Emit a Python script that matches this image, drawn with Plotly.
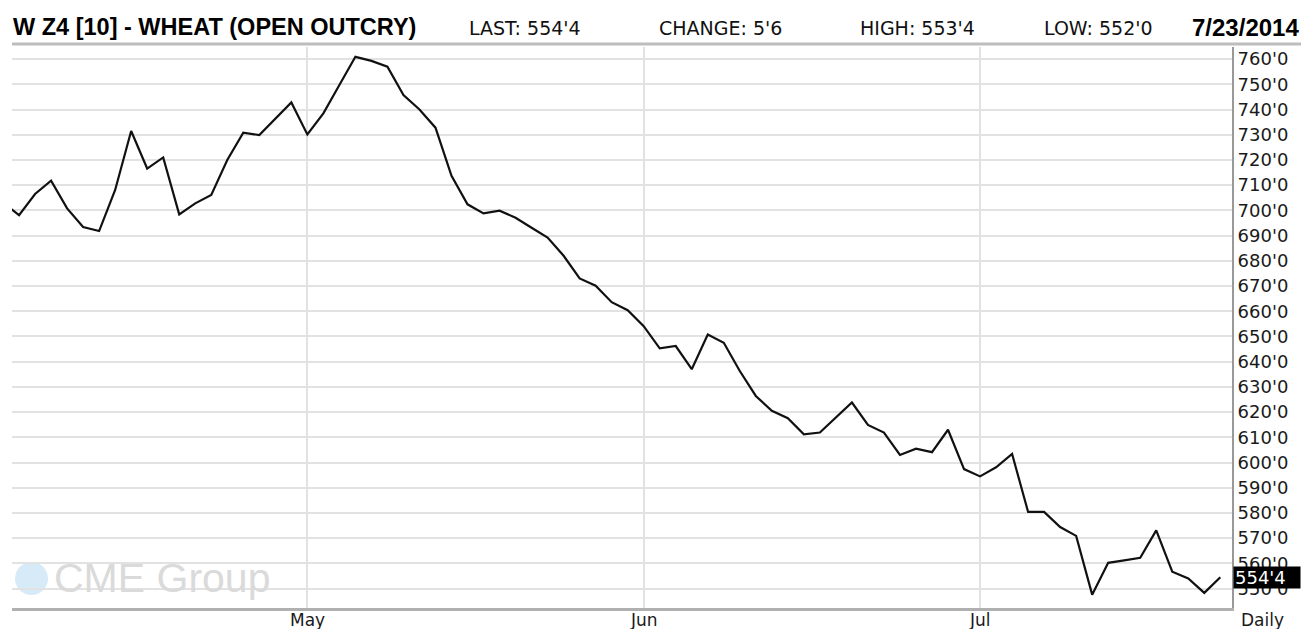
import pandas as pd
import plotly.graph_objects as go

# ---- data ----
holidays = ["2014-04-18", "2014-05-26", "2014-07-04"]
dates = [d.strftime("%Y-%m-%d") for d in pd.bdate_range("2014-04-03", "2014-07-23")
         if d.strftime("%Y-%m-%d") not in holidays]

close = [
    703.0, 698.1, 706.5, 711.8, 700.8, 693.4, 691.8, 708.1, 731.5, 716.6,
    721.0, 698.4, 702.8, 706.1, 720.0, 730.8, 729.9, 736.2, 742.8, 730.1,
    738.5, 749.7, 760.9, 759.3, 757.0, 745.7, 740.0, 732.8, 713.7, 702.4,
    698.8, 699.9, 697.1, 693.1, 689.2, 682.0, 673.0, 670.1, 663.6, 660.4,
    654.1, 645.3, 646.2, 637.0, 650.8, 647.5, 636.3, 626.4, 620.5, 617.6,
    611.2, 611.9, 617.8, 623.8, 614.9, 611.9, 603.0, 605.5, 604.1, 613.0,
    597.4, 594.5, 598.1, 603.4, 580.4, 580.4, 574.4, 570.9, 547.6, 560.2,
    561.2, 562.2, 573.1, 556.7, 554.0, 548.3, 554.5,
]

month_ticks = ["2014-05-01", "2014-06-02", "2014-07-01"]
month_labels = ["May", "Jun", "Jul"]

price_ticks = list(range(550, 761, 10))
price_labels = [f"{v}'0" for v in price_ticks]

title_text = "W Z4 [10] - WHEAT (OPEN OUTCRY)"
header_items = ["LAST: 554'4", "CHANGE: 5'6", "HIGH: 553'4", "LOW: 552'0"]
date_text = "7/23/2014"
last_label = "554'4"
last_value = 554.5

# ---- figure ----
# The page keeps its default 8px body margin, so the figure is 16px smaller
# than the window and everything is placed in window pixel coordinates.
OFF = 8
W, H = 1309 - 2 * OFF, 637 - 2 * OFF
PL, PR, PT, PB = 12, 1232, 47, 608          # plot area in window pixels
L, R, T, B = PL - OFF, W - (PR - OFF), PT - OFF, H - (PB - OFF)
plot_w = PR - PL
plot_h = PB - PT


def px_x(x):
    return (x - PL) / plot_w


def px_y(y):
    return (PB - y) / plot_h


fig = go.Figure()
fig.add_trace(go.Scatter(
    x=dates, y=close, mode="lines",
    line=dict(color="#111111", width=2.2),
    hoverinfo="x+y", showlegend=False,
))

tick_font = dict(family="DejaVu Sans", size=18, color="#1a1a1a")
xtick_font = dict(family="DejaVu Sans", size=17, color="#1a1a1a")

fig.update_layout(
    width=W, height=H,
    margin=dict(l=L, r=R, t=T, b=B, autoexpand=False),
    paper_bgcolor="white", plot_bgcolor="white",
    xaxis=dict(
        type="category",
        range=[0.56, 76.73],
        tickvals=month_ticks, showticklabels=False,
        showgrid=True, gridcolor="#e2e2e2", gridwidth=2,
        showline=True, linecolor="#b0b0b0", linewidth=3,
        ticks="", zeroline=False, fixedrange=True, automargin=False,
    ),
    yaxis=dict(
        side="right",
        range=[542.3, 764.8],
        tickvals=price_ticks, ticktext=price_labels,
        showgrid=True, gridcolor="#e2e2e2", gridwidth=2,
        showline=True, linecolor="#999999", linewidth=2,
        ticks="", tickfont=tick_font, ticklabelstandoff=0,
        zeroline=False, fixedrange=True, automargin=False,
    ),
)

# month labels under the vertical grid lines
for mt, ml in zip(month_ticks, month_labels):
    fig.add_annotation(xref="x", yref="paper", x=mt, y=px_y(620),
                       xanchor="center", yanchor="middle", showarrow=False,
                       text=ml, font=xtick_font)

# watermark
fig.add_shape(type="circle", xref="paper", yref="paper",
              x0=px_x(15), x1=px_x(48), y0=px_y(595), y1=px_y(562),
              fillcolor="#d7eaf8", line=dict(width=0), layer="below")
fig.add_annotation(xref="paper", yref="paper", x=px_x(52), y=px_y(578),
                   xanchor="left", yanchor="middle", showarrow=False,
                   text="CME Group",
                   font=dict(family="Liberation Sans", size=41, color="#dadada"))

# header
fig.add_shape(type="line", xref="paper", yref="paper",
              x0=px_x(12), x1=px_x(1309), y0=px_y(44), y1=px_y(44),
              line=dict(color="#bdbdbd", width=3))
fig.add_annotation(xref="paper", yref="paper", x=px_x(11), y=px_y(27),
                   xanchor="left", yanchor="middle", showarrow=False,
                   text=f"<b>{title_text}</b>",
                   font=dict(family="Liberation Sans", size=23.5, color="#000000"))
header_x = [467, 657, 858, 1042]
for txt, hx in zip(header_items, header_x):
    fig.add_annotation(xref="paper", yref="paper", x=px_x(hx), y=px_y(28),
                       xanchor="left", yanchor="middle", showarrow=False,
                       text=txt,
                       font=dict(family="DejaVu Sans", size=19, color="#111111"))
fig.add_annotation(xref="paper", yref="paper", x=px_x(1301), y=px_y(27),
                   xanchor="right", yanchor="middle", showarrow=False,
                   text=f"<b>{date_text}</b>",
                   font=dict(family="Liberation Sans", size=24, color="#000000"))

# footer label
fig.add_annotation(xref="paper", yref="paper", x=px_x(1262), y=px_y(620),
                   xanchor="center", yanchor="middle", showarrow=False,
                   text="Daily", font=xtick_font)

# last price box
fig.add_annotation(xref="paper", yref="y", x=px_x(1233), y=last_value,
                   xanchor="left", yanchor="middle", showarrow=False,
                   text=last_label, align="left",
                   width=64, height=19, borderpad=1,
                   bgcolor="#000000",
                   font=dict(family="DejaVu Sans", size=18, color="#ffffff"))

fig.write_html("out.html", config={"displayModeBar": False})
